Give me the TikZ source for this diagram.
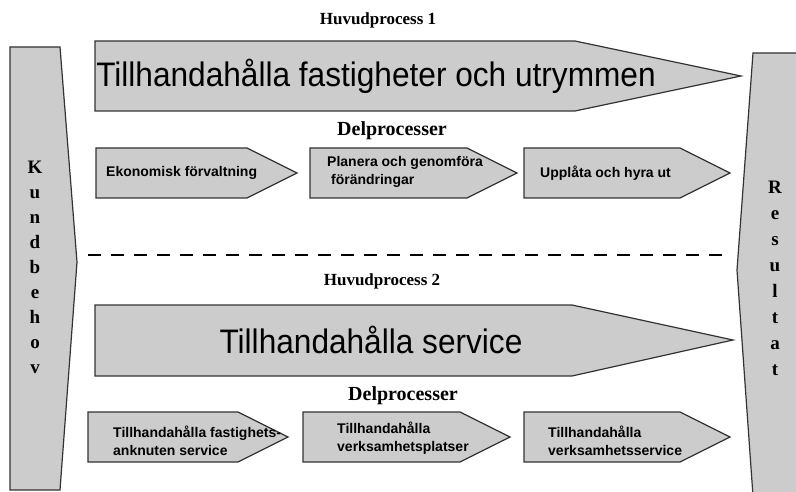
\documentclass[tikz,border=0pt]{standalone}
\usepackage{fontspec}
\setmainfont{Liberation Serif}
\newfontfamily\arial{Liberation Sans}
\begin{document}
\begin{tikzpicture}[x=1pt,y=-1pt,
  shapefill/.style={fill=boxgray,draw=edgegray,line width=1.2pt,line join=miter},
  header/.style={font=\bfseries\fontsize{17}{17}\selectfont,inner sep=0pt},
  subheader/.style={font=\bfseries\fontsize{20}{20}\selectfont,inner sep=0pt},
  bigtext/.style={font=\arial\fontsize{34}{34}\selectfont,inner sep=0pt,xscale=0.93},
  subtext/.style={font=\arial\bfseries\fontsize{14}{18}\selectfont,inner sep=0pt,anchor=west,align=left},
  vertword/.style={font=\bfseries\fontsize{19}{19}\selectfont,inner sep=0pt,align=center}]
\definecolor{boxgray}{HTML}{CCCCCC}
\definecolor{edgegray}{HTML}{333333}
\useasboundingbox (0,0) rectangle (796,492);
\fill[white] (0,0) rectangle (796,492);

% side shapes
\draw[shapefill] (10,47) -- (60,47) -- (77,262) -- (60,490) -- (10,490) -- cycle;
\draw[shapefill] (753,53) -- (810,53) -- (810,510) -- (754,510) -- (737,270) -- cycle;
\node[vertword] (kund) at (35,267) {K\\[6pt]u\\[6pt]n\\[6pt]d\\[6pt]b\\[6pt]e\\[6pt]h\\[6pt]o\\[6pt]v};
\node[vertword] (res) at (775,278) {R\\[7pt]e\\[7pt]s\\[7pt]u\\[7pt]l\\[7pt]t\\[7pt]a\\[7pt]t};

% main process 1
\node[header] (h1) at (378,20) {Huvudprocess 1};
\draw[shapefill] (95,41) -- (575,41) -- (741,76) -- (575,111) -- (95,111) -- cycle;
\node[bigtext] (m1) at (376,76) {Tillhandahålla fastigheter och utrymmen};

% sub processes 1
\node[subheader] (d1) at (392,131) {Delprocesser};
\draw[shapefill] (96,148) -- (247,148) -- (297,173) -- (247,198) -- (96,198) -- cycle;
\draw[shapefill] (310,148) -- (467,148) -- (517,173) -- (467,198) -- (310,198) -- cycle;
\draw[shapefill] (524,148) -- (680,148) -- (730,173) -- (680,198) -- (524,198) -- cycle;
\node[subtext] (s11) at (106,173) {Ekonomisk förvaltning};
\node[subtext] (s12) at (327,172) {Planera och genomföra\\\ förändringar};
\node[subtext] (s13) at (540,173) {Upplåta och hyra ut};

% separator
\coordinate (sepa) at (88,255);
\coordinate (sepb) at (730,255);
\draw[line width=1.6pt,dash pattern=on 13pt off 10pt] (sepa) -- (sepb);

% main process 2
\node[header] (h2) at (382,281) {Huvudprocess 2};
\draw[shapefill] (95,305) -- (572,305) -- (733,340) -- (572,376) -- (95,376) -- cycle;
\node[bigtext] (m2) at (371,340) {Tillhandahålla service};

% sub processes 2
\node[subheader] (d2) at (403,396) {Delprocesser};
\draw[shapefill] (88,412) -- (238,412) -- (288,437) -- (238,462) -- (88,462) -- cycle;
\draw[shapefill] (303,412) -- (460,412) -- (510,437) -- (460,462) -- (303,462) -- cycle;
\draw[shapefill] (524,412) -- (680,412) -- (730,437) -- (680,462) -- (524,462) -- cycle;
\node[subtext] (s21) at (113,441) {Tillhandahålla fastighets-\\anknuten service};
\node[subtext] (s22) at (337,438) {Tillhandahålla\\verksamhetsplatser};
\node[subtext] (s23) at (548,441) {Tillhandahålla\\verksamhetsservice};
\end{tikzpicture}
\end{document}
